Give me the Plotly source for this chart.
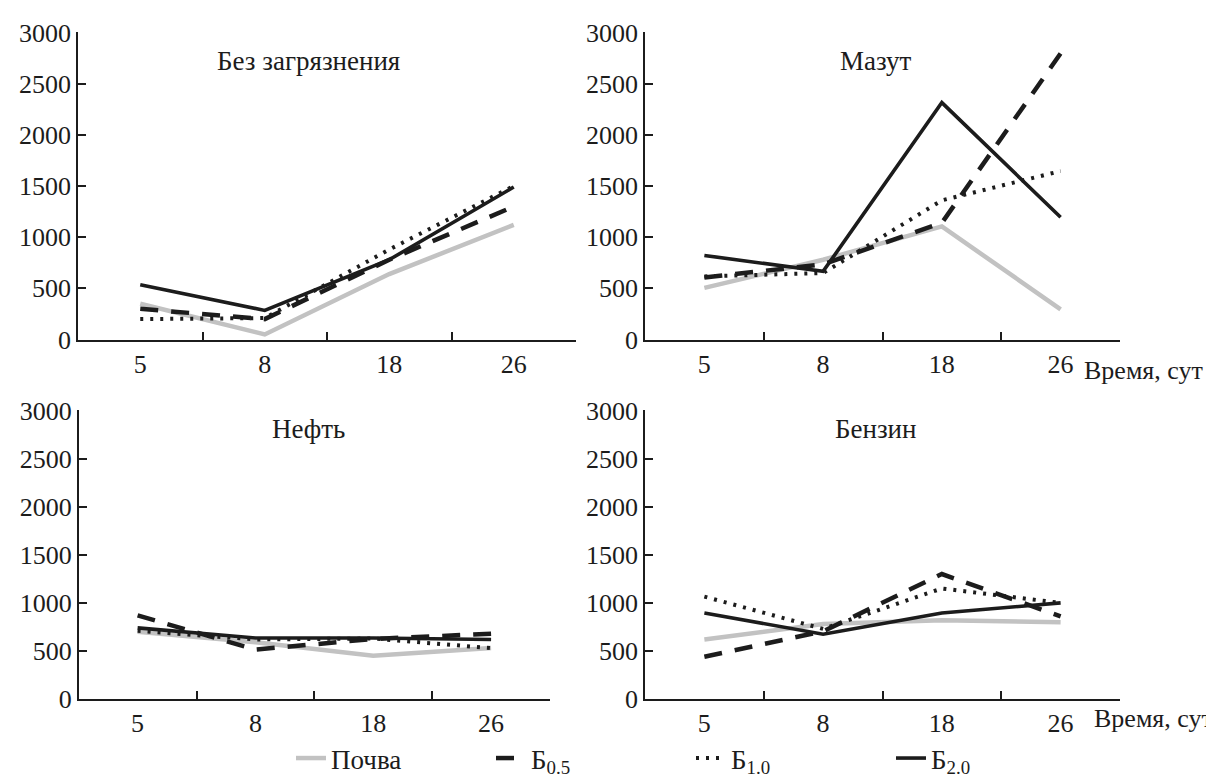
import plotly.graph_objects as go

# ---- data ----
days = ["5", "8", "18", "26"]
series_names = ["Почва", "Б<sub>0.5</sub>", "Б<sub>1.0</sub>", "Б<sub>2.0</sub>"]
panel_titles = ["Без загрязнения", "Мазут", "Нефть", "Бензин"]
x_title = "Время, сут"
y_ticks = [0, 500, 1000, 1500, 2000, 2500, 3000]

clean_pochva = [350, 50, 640, 1120]
clean_b05 = [300, 200, 780, 1300]
clean_b10 = [200, 210, 880, 1500]
clean_b20 = [535, 285, 780, 1490]

mazut_pochva = [505, 780, 1105, 295]
mazut_b05 = [607, 735, 1140, 2795]
mazut_b10 = [617, 650, 1360, 1646]
mazut_b20 = [822, 666, 2315, 1195]

neft_pochva = [700, 590, 450, 530]
neft_b05 = [870, 515, 625, 680]
neft_b10 = [710, 620, 630, 530]
neft_b20 = [740, 635, 635, 620]

benzin_pochva = [620, 780, 820, 800]
benzin_b05 = [440, 705, 1300, 860]
benzin_b10 = [1065, 730, 1150, 1000]
benzin_b20 = [895, 675, 895, 1000]

panels_data = [
    [clean_pochva, clean_b05, clean_b10, clean_b20],
    [mazut_pochva, mazut_b05, mazut_b10, mazut_b20],
    [neft_pochva, neft_b05, neft_b10, neft_b20],
    [benzin_pochva, benzin_b05, benzin_b10, benzin_b20],
]

# ---- styles ----
W, H = 1214, 775
FONT = "Liberation Serif, Times New Roman, DejaVu Serif, serif"
INK = "#1c1c1c"
styles = [
    dict(color="#c2c2c2", width=4.5, dash="solid"),
    dict(color=INK, width=4.5, dash="18px,13px"),
    dict(color=INK, width=4, dash="3px,7px"),
    dict(color=INK, width=3.6, dash="solid"),
]

# panel boxes in pixels: (left, right, top, bottom)
boxes = [
    (70, 568, 24.5, 332),
    (637, 1112, 24.5, 332),
    (70.7, 542, 403, 692),
    (637, 1112, 403, 692),
]

fig = go.Figure()
layout = dict(
    width=W, height=H,
    margin=dict(l=0, r=0, t=0, b=0),
    paper_bgcolor="white", plot_bgcolor="white",
    font=dict(family=FONT, size=26, color=INK),
    showlegend=True,
    legend=dict(orientation="h", x=283 / W, y=1 - 751 / H,
                xanchor="left", yanchor="middle",
                entrywidth=155, entrywidthmode="pixels",
                bgcolor="rgba(0,0,0,0)", font=dict(family=FONT, size=27, color=INK),
                traceorder="normal"),
)

annotations = []
for i, (title, data, box) in enumerate(zip(panel_titles, panels_data, boxes)):
    n = "" if i == 0 else str(i + 1)
    l, r, t, b = box
    xd = [l / W, r / W]
    yd = [1 - b / H, 1 - t / H]
    common = dict(showline=True, linecolor=INK, linewidth=1.6, ticks="inside",
                  ticklen=8, tickwidth=1.6, tickcolor=INK, showgrid=False,
                  zeroline=False, automargin=False,
                  tickfont=dict(family=FONT, size=26, color=INK))
    layout["xaxis" + n] = dict(domain=xd, anchor="y" + n, type="category",
                               categoryorder="array", categoryarray=days,
                               range=[-0.5, 3.5], tickson="boundaries", **common)
    layout["yaxis" + n] = dict(domain=yd, anchor="x" + n, range=[0, 3000],
                               tickvals=y_ticks, **common)
    for j, (vals, st) in enumerate(zip(data, styles)):
        fig.add_trace(go.Scatter(
            x=days, y=vals, mode="lines", name=series_names[j],
            line=st, xaxis="x" + n, yaxis="y" + n,
            legendgroup=series_names[j], showlegend=(i == 0),
        ))
    cx = (300 if i in (0, 2) else 868) / W
    cy = 1 - (53 if i < 2 else 422) / H
    annotations.append(dict(text=title, x=cx, y=cy, xref="paper", yref="paper",
                            xanchor="center", yanchor="middle", showarrow=False,
                            font=dict(family=FONT, size=27, color=INK)))

annotations.append(dict(text=x_title, x=1074 / W, y=1 - 363 / H, xref="paper", yref="paper",
                        xanchor="left", yanchor="middle", showarrow=False,
                        font=dict(family=FONT, size=26, color=INK)))
annotations.append(dict(text=x_title, x=1084 / W, y=1 - 711 / H, xref="paper", yref="paper",
                        xanchor="left", yanchor="middle", showarrow=False,
                        font=dict(family=FONT, size=26, color=INK)))
layout["annotations"] = annotations
fig.update_layout(**layout)

fig.write_html("out.html", config={"displayModeBar": False})
